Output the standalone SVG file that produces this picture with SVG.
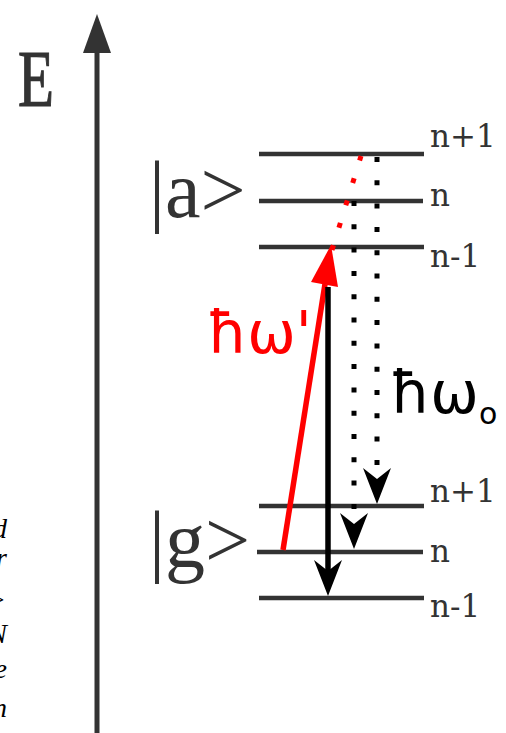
<svg xmlns="http://www.w3.org/2000/svg" width="506" height="733" viewBox="0 0 506 733">
<style>
.lvl{stroke:#333;stroke-width:4.5;fill:none}
.axis{stroke:#333;stroke-width:5;fill:none}
.big{font-family:"Liberation Serif",serif;font-size:80px;fill:#333}
.lab{font-family:"DejaVu Serif",serif;font-size:31px;fill:#333}
.hb{font-family:"DejaVu Sans",sans-serif;font-size:58px}
.cut{font-family:"Liberation Serif",serif;font-style:italic;font-size:28px;fill:#000}
.blk{stroke:#000;stroke-width:5.5;fill:none}
.dot{stroke:#000;stroke-width:5;fill:none;stroke-dasharray:5 18.3}
.rdot{stroke:#f00;stroke-width:5;fill:none;stroke-dasharray:5 18.4}
</style>
<defs>
<path id="head" d="M0,0 L-14,-36 L0,-25 L14,-36 Z" fill="#000"/>
</defs>
<rect width="506" height="733" fill="#fff"/>
<g id="axis">
<line class="axis" x1="97" y1="733" x2="97" y2="50"/>
<polygon points="97,14 83,53 111,53" fill="#333"/>
<text class="big" x="18" y="106" stroke="#333" stroke-width="1.2" textLength="36" lengthAdjust="spacingAndGlyphs">E</text>
</g>
<g id="cut-text">
<text class="cut" x="7" y="538" text-anchor="end">d</text>
<text class="cut" x="7" y="567" text-anchor="end">r</text>
<text class="cut" x="6" y="609" text-anchor="end">&gt;</text>
<text class="cut" x="7" y="643" text-anchor="end">N</text>
<text class="cut" x="7" y="678" text-anchor="end">e</text>
<text class="cut" x="7" y="717" text-anchor="end">n</text>
</g>
<g id="state-a">
<text class="big" x="149" y="217">|a&gt;</text>
<line class="lvl" x1="259" y1="154" x2="424" y2="154"/>
<line class="lvl" x1="259" y1="201" x2="423" y2="201"/>
<line class="lvl" x1="259" y1="247" x2="424" y2="247"/>
<text class="lab" x="430" y="147">n+1</text>
<text class="lab" x="430" y="206">n</text>
<text class="lab" x="430" y="267">n-1</text>
</g>
<g id="state-g">
<text class="big" x="149" y="567">|g&gt;</text>
<line class="lvl" x1="259" y1="506" x2="424" y2="506"/>
<line class="lvl" x1="257" y1="552" x2="423" y2="552"/>
<line class="lvl" x1="259" y1="598" x2="424" y2="598"/>
<text class="lab" x="430" y="502">n+1</text>
<text class="lab" x="430" y="562">n</text>
<text class="lab" x="430" y="617">n-1</text>
</g>
<g id="connectors">
<line x1="283" y1="550" x2="325" y2="284" stroke="#f00" stroke-width="5.5"/>
<polygon points="331,245 338,287 311,282" fill="#f00"/>
<line class="rdot" x1="332" y1="250" x2="361" y2="156"/>
<line class="blk" x1="328" y1="287" x2="328" y2="575"/>
<use href="#head" x="328" y="596"/>
<line class="dot" x1="354" y1="201" x2="354" y2="515"/>
<use href="#head" x="354" y="549"/>
<line class="dot" x1="377" y1="157" x2="377" y2="472"/>
<use href="#head" x="377" y="504"/>
</g>
<g id="label-red">
<text class="hb" x="207" y="353" fill="#f00">ħω'</text>
</g>
<g id="label-black">
<text class="hb" x="390" y="413" fill="#000">ħω<tspan font-size="30px" dy="11">o</tspan></text>
</g>
</svg>
